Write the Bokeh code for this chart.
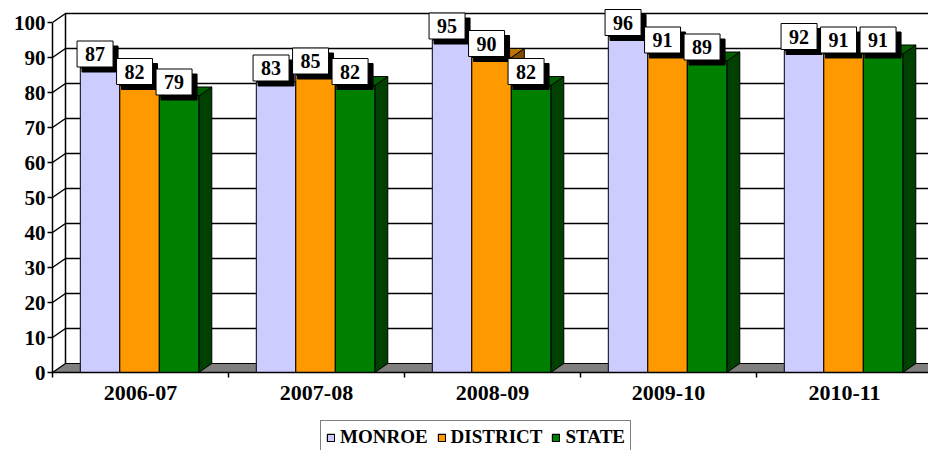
from bokeh.plotting import figure
from bokeh.layouts import column
from bokeh.models import FixedTicker, Legend, LegendItem, ColumnDataSource
from bokeh.embed import file_html
from bokeh.resources import INLINE
from bokeh.core.properties import value

# ---- data ----
categories = ["2006-07", "2007-08", "2008-09", "2009-10", "2010-11"]
monroe = [87, 83, 95, 96, 92]
district = [82, 85, 90, 91, 91]
state = [79, 82, 82, 89, 91]
series_names = ["MONROE", "DISTRICT", "STATE"]
y_ticks = [0, 10, 20, 30, 40, 50, 60, 70, 80, 90, 100]

# ---- styles / layout ----
FRONT = ["#CCCCFF", "#FF9900", "#008000"]
TOP = ["#9999C6", "#BF7300", "#006000"]
SIDE = ["#77779A", "#804D00", "#004000"]
FONT = "Liberation Serif"

W = 928
H_MAIN, H_LEG = 414, 36
LEFT, BOTTOM = 52, 42
CAT_PX = 176.0      # pixels per category
Y_PX = 3.5          # pixels per value unit
DX = 13 / CAT_PX    # depth offset (data units)
DY = 9 / Y_PX
BAR_W = 39.5 / CAT_PX
BAR_START = 0.158

n = len(categories)
x_end = (W - LEFT) / CAT_PX
y_end = (H_MAIN - BOTTOM) / Y_PX

p = figure(width=W, height=H_MAIN, x_range=(0, x_end), y_range=(0, y_end),
           output_backend="svg", toolbar_location=None,
           min_border_left=LEFT, min_border_bottom=BOTTOM,
           min_border_top=0, min_border_right=0)
p.outline_line_color = None
p.xgrid.visible = False
p.ygrid.visible = False
p.background_fill_color = "white"
p.border_fill_color = "white"

# ---- walls and gridlines ----
grid_xs, grid_ys = [], []
for t in y_ticks[1:]:
    grid_xs.append([0, DX, n + DX])
    grid_ys.append([t, t + DY, t + DY])
p.multi_line(grid_xs, grid_ys, line_color="black", line_width=1.5)
top_val = y_ticks[-1]
p.line([DX, DX], [DY, top_val + DY], line_color="black", line_width=1.5)
p.patch([0, n, n + DX, DX], [0, 0, DY, DY], fill_color="#808080",
        line_color="black", line_width=1.2)

# ---- bars ----
series = [monroe, district, state]
sources = []
label_info = []
for s, vals in enumerate(series):
    lefts = [i + BAR_START + s * BAR_W for i in range(n)]
    rights = [l + BAR_W for l in lefts]
    side_xs = [[r, r + DX, r + DX, r] for r in rights]
    side_ys = [[0, DY, v + DY, v] for v in vals]
    top_xs = [[l, r, r + DX, l + DX] for l, r in zip(lefts, rights)]
    top_ys = [[v, v, v + DY, v + DY] for v in vals]
    p.patches(side_xs, side_ys, fill_color=SIDE[s], line_color="black", line_width=1)
    p.patches(top_xs, top_ys, fill_color=TOP[s], line_color="black", line_width=1)
    src = ColumnDataSource(dict(left=lefts, right=rights, top=vals, bottom=[0] * n))
    sources.append(src)
    p.quad(left="left", right="right", top="top", bottom="bottom", source=src,
           fill_color=FRONT[s], line_color="black", line_width=1)
    for l, rr, v in zip(lefts, rights, vals):
        label_info.append(((l + rr) / 2, v, str(v)))

# ---- value labels (shadow + box) ----
lx = [a for a, b, c in label_info]
ly = [b for a, b, c in label_info]
lt = [c for a, b, c in label_info]
lsrc = ColumnDataSource(dict(x=lx, y=ly, text=lt))
common = dict(x="x", y="y", text="text", source=lsrc, text_font=value(FONT),
              text_font_style="bold", text_font_size="20px",
              text_align="center", text_baseline="bottom", anchor="bottom_center",
              padding=(8, 6))
p.text(text_color="black", background_fill_color="black", border_line_color="black",
       x_offset=0, y_offset=4, **common)
p.text(text_color="black", background_fill_color="white", border_line_color="black",
       border_line_width=1, x_offset=-5, y_offset=-1, **common)

# ---- axes ----
yax = p.yaxis[0]
yax.ticker = FixedTicker(ticks=y_ticks)
yax.bounds = (y_ticks[0], y_ticks[-1])
yax.major_tick_out = 5
yax.major_tick_in = 0
yax.minor_tick_line_color = None
yax.axis_line_width = 1.5
yax.major_tick_line_width = 1.5
yax.major_label_standoff = 2
yax.major_label_text_font = FONT
yax.major_label_text_font_style = "bold"
yax.major_label_text_font_size = "21px"
yax.major_label_text_color = "black"
yax.axis_line_color = "black"

xax = p.xaxis[0]
centers = [i + 0.5 for i in range(n)]
xax.ticker = FixedTicker(ticks=centers, minor_ticks=list(range(n + 1)))
xax.major_label_overrides = {c: name for c, name in zip(centers, categories)}
xax.bounds = (0, n)
xax.major_tick_out = 0
xax.major_tick_in = 0
xax.major_tick_line_color = None
xax.minor_tick_out = 5
xax.minor_tick_in = 0
xax.minor_tick_line_color = "black"
xax.minor_tick_line_width = 1.5
xax.axis_line_width = 1.5
xax.axis_line_color = "black"
xax.major_label_standoff = 8
xax.major_label_text_font = FONT
xax.major_label_text_font_style = "bold"
xax.major_label_text_font_size = "22px"
xax.major_label_text_color = "black"

# ---- legend (separate strip below the chart; its bars lie outside its view) ----
pl = figure(width=W, height=H_LEG, x_range=(0, x_end), y_range=(-2, -1),
            output_backend="svg", toolbar_location=None,
            x_axis_location=None, y_axis_location=None,
            min_border_left=0, min_border_right=0, min_border_top=0, min_border_bottom=0)
pl.outline_line_color = None
pl.xgrid.visible = False
pl.ygrid.visible = False
leg_renderers = []
for s in range(len(series_names)):
    leg_renderers.append(pl.quad(left="left", right="right", top="top", bottom="bottom",
                                 source=sources[s], fill_color=FRONT[s],
                                 line_color="black", line_width=1.2))
legend = Legend(items=[LegendItem(label=nm, renderers=[r], index=0)
                       for nm, r in zip(series_names, leg_renderers)],
                orientation="horizontal", location=(268, -4), margin=0,
                border_line_color="black", border_line_width=1.5,
                label_text_font=FONT, label_text_font_style="bold",
                label_text_font_size="19px", label_text_color="black",
                glyph_width=9, glyph_height=9,
                label_standoff=5, spacing=9, padding=5, label_height=16,
                background_fill_color="white", background_fill_alpha=1.0)
pl.add_layout(legend)

layout = column(p, pl, spacing=0)
open("out.html", "w").write(file_html(layout, INLINE))
